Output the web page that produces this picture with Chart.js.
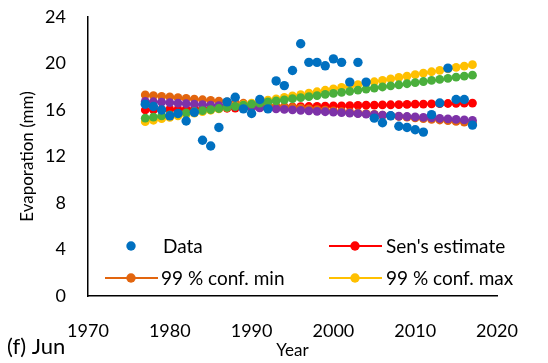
<!DOCTYPE html>
<html>
<head>
<meta charset="utf-8">
<script src="https://cdn.jsdelivr.net/npm/chart.js@4"></script>
<style>
  body { margin: 0; background: #fff; }
</style>
</head>
<body>
<canvas id="evapChart" width="548" height="363"></canvas>
<script>
// June evaporation and Sen's slope trend with confidence bounds
const years = [1977, 1978, 1979, 1980, 1981, 1982, 1983, 1984, 1985, 1986,
  1987, 1988, 1989, 1990, 1991, 1992, 1993, 1994, 1995, 1996,
  1997, 1998, 1999, 2000, 2001, 2002, 2003, 2004, 2005, 2006,
  2007, 2008, 2009, 2010, 2011, 2012, 2013, 2014, 2015, 2016, 2017];

const evaporation = [16.5, 16.3, 16.0, 15.5, 15.7, 15.05, 15.8, 13.4, 12.9, 14.5,
  16.7, 17.1, 16.1, 15.7, 16.9, 16.1, 18.5, 18.1, 19.4, 21.7,
  20.1, 20.1, 19.8, 20.4, 20.1, 18.4, 20.1, 18.4, 15.3, 14.9,
  15.5, 14.6, 14.5, 14.3, 14.1, 15.6, 16.6, 19.6, 16.9, 16.9, 14.7];

const sensEstimate = [16.00, 16.02, 16.03, 16.05, 16.06, 16.08, 16.09, 16.11, 16.12, 16.14,
  16.15, 16.17, 16.18, 16.20, 16.21, 16.23, 16.24, 16.26, 16.27, 16.29,
  16.30, 16.32, 16.33, 16.35, 16.36, 16.38, 16.39, 16.41, 16.42, 16.44,
  16.45, 16.47, 16.48, 16.50, 16.51, 16.53, 16.54, 16.56, 16.57, 16.59, 16.60];

const conf99Min = [17.30, 17.24, 17.18, 17.12, 17.06, 17.00, 16.94, 16.88, 16.82, 16.76,
  16.70, 16.64, 16.58, 16.52, 16.46, 16.40, 16.34, 16.28, 16.22, 16.16,
  16.10, 16.04, 15.98, 15.92, 15.86, 15.80, 15.74, 15.68, 15.62, 15.56,
  15.50, 15.44, 15.38, 15.32, 15.26, 15.20, 15.14, 15.08, 15.02, 14.96, 14.90];

const conf99Max = [15.00, 15.12, 15.25, 15.37, 15.49, 15.61, 15.74, 15.86, 15.98, 16.10,
  16.23, 16.35, 16.47, 16.59, 16.72, 16.84, 16.96, 17.08, 17.21, 17.33,
  17.45, 17.57, 17.70, 17.82, 17.94, 18.06, 18.19, 18.31, 18.43, 18.55,
  18.68, 18.80, 18.92, 19.04, 19.17, 19.29, 19.41, 19.53, 19.66, 19.78, 19.90];

const conf95Min = [16.75, 16.71, 16.67, 16.63, 16.59, 16.55, 16.50, 16.46, 16.42, 16.38,
  16.34, 16.30, 16.26, 16.22, 16.18, 16.14, 16.09, 16.05, 16.01, 15.97,
  15.93, 15.89, 15.85, 15.81, 15.77, 15.73, 15.68, 15.64, 15.60, 15.56,
  15.52, 15.48, 15.44, 15.40, 15.36, 15.32, 15.27, 15.23, 15.19, 15.15, 15.11];

const conf95Max = [15.30, 15.39, 15.49, 15.58, 15.67, 15.76, 15.86, 15.95, 16.04, 16.13,
  16.23, 16.32, 16.41, 16.50, 16.60, 16.69, 16.78, 16.87, 16.97, 17.06,
  17.15, 17.24, 17.34, 17.43, 17.52, 17.61, 17.71, 17.80, 17.89, 17.98,
  18.08, 18.17, 18.26, 18.35, 18.45, 18.54, 18.63, 18.72, 18.82, 18.91, 19.00];

const xTicks = [1970, 1980, 1990, 2000, 2010, 2020];
const yTicks = [0, 4, 8, 12, 16, 20, 24];

const FONT = 'Lato, "Open Sans", sans-serif';

function toPoints(values) {
  return values.map((v, i) => ({ x: years[i], y: v }));
}

function lineSeries(label, values, color, order) {
  return {
    label: label,
    data: toPoints(values),
    showLine: true,
    borderColor: color,
    backgroundColor: color,
    borderWidth: 2,
    pointRadius: 4.4,
    pointBorderWidth: 0,
    pointBackgroundColor: color,
    order: order
  };
}

const datasets = [
  {
    label: 'Data',
    data: toPoints(evaporation),
    showLine: false,
    backgroundColor: '#0070C0',
    borderColor: '#0070C0',
    pointRadius: 4.7,
    pointBorderWidth: 0,
    order: 0
  },
  lineSeries("Sen's estimate", sensEstimate, '#FF0000', 5),
  lineSeries('99 % conf. min', conf99Min, '#E2650E', 4),
  lineSeries('99 % conf. max', conf99Max, '#FFC000', 3),
  lineSeries('95 % conf. min', conf95Min, '#7D32A8', 2),
  lineSeries('95 % conf. max', conf95Max, '#4AAF3C', 1)
];

// legend box drawn inside the plot, two columns, first four series only
const insideLegend = {
  id: 'insideLegend',
  afterDraw(chart) {
    const ctx = chart.ctx;
    const ds = chart.data.datasets;
    const slots = [
      { set: ds[0], x: 131, y: 246, line: false, textX: 163 },
      { set: ds[1], x: 355, y: 246, line: true, textX: 386 },
      { set: ds[2], x: 131, y: 278, line: true, textX: 161 },
      { set: ds[3], x: 355, y: 278, line: true, textX: 386 }
    ];
    ctx.save();
    ctx.font = '19px ' + FONT;
    ctx.textBaseline = 'middle';
    ctx.textAlign = 'left';
    slots.forEach(s => {
      const c = s.set.backgroundColor;
      if (s.line) {
        ctx.strokeStyle = c;
        ctx.lineWidth = 2;
        ctx.beginPath();
        ctx.moveTo(s.x - 26, s.y);
        ctx.lineTo(s.x + 27, s.y);
        ctx.stroke();
      }
      ctx.fillStyle = c;
      ctx.beginPath();
      ctx.arc(s.x, s.y, 4.7, 0, Math.PI * 2);
      ctx.fill();
      ctx.fillStyle = '#000';
      ctx.fillText(s.set.label, s.textX, s.y + 1);
    });
    // panel tag
    ctx.font = '22px ' + FONT;
    ctx.fillText('(f) Jun', 7, 347);
    ctx.restore();
  }
};

new Chart(document.getElementById('evapChart'), {
  type: 'scatter',
  data: { datasets: datasets },
  plugins: [insideLegend],
  options: {
    responsive: false,
    animation: false,
    layout: { padding: { top: 17, right: 51, left: 0, bottom: 0 } },
    plugins: {
      legend: { display: false },
      tooltip: { enabled: false }
    },
    scales: {
      x: {
        type: 'linear',
        min: xTicks[0],
        max: xTicks[xTicks.length - 1],
        afterFit: s => { s.height = 67; },
        afterBuildTicks: s => { s.ticks = xTicks.map(v => ({ value: v })); },
        grid: { display: false },
        border: { display: true, color: '#000', width: 1.5 },
        ticks: {
          color: '#000',
          font: { family: FONT, size: 18 },
          padding: 16,
          maxRotation: 0,
          callback: v => String(v)
        },
        title: {
          display: true,
          text: 'Year',
          color: '#000',
          font: { family: FONT, size: 17 },
          padding: { top: 0, bottom: 2 }
        }
      },
      y: {
        min: yTicks[0],
        max: yTicks[yTicks.length - 1],
        // keep the top of the plot at the layout padding, not the label overhang
        afterFit: s => { s.width = 88; s.paddingTop = 0; s.paddingBottom = 0; },
        afterBuildTicks: s => { s.ticks = yTicks.map(v => ({ value: v })); },
        grid: { display: false },
        border: { display: true, color: '#000', width: 1.5 },
        ticks: {
          color: '#000',
          font: { family: FONT, size: 18 },
          padding: 14,
          callback: v => String(v)
        },
        title: {
          display: true,
          text: 'Evaporation (mm)',
          color: '#000',
          font: { family: FONT, size: 17 },
          padding: { top: 17, bottom: 0 }
        }
      }
    }
  }
});
</script>
</body>
</html>
